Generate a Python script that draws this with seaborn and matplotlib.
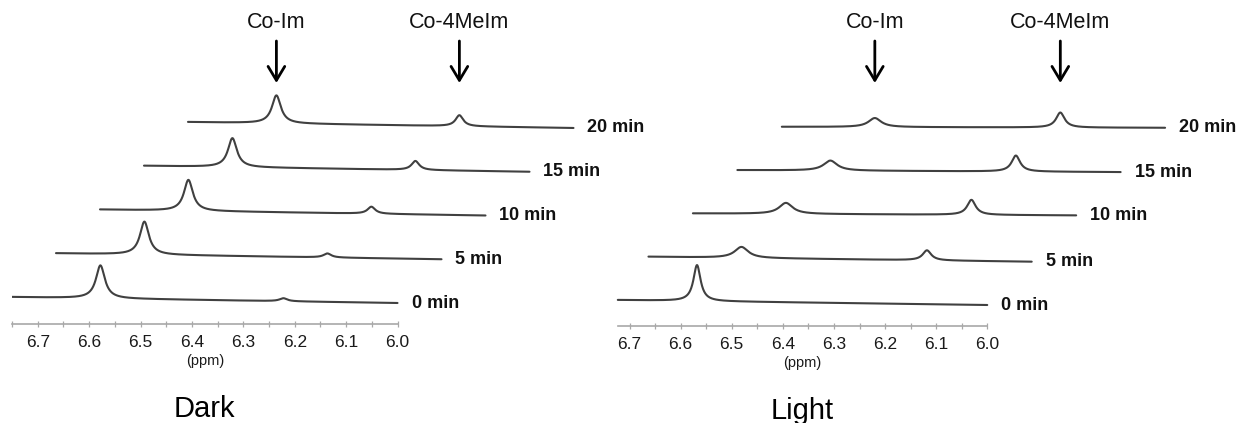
import numpy as np
import pandas as pd
import matplotlib
matplotlib.use("Agg")
import matplotlib.pyplot as plt
import seaborn as sns

# ---- data ---------------------------------------------------------------
times = ["0 min", "5 min", "10 min", "15 min", "20 min"]

# chemical shifts of the two resonances (ppm)
dark_im_ppm = 6.578
dark_meim_ppm = 6.222
light_im_ppm = 6.568
light_meim_ppm = 6.205

# peak heights (a.u.)
dark_im_height = [33, 33, 31, 29, 28]
dark_meim_height = [3, 4, 7, 9, 11]
light_im_height = [36, 11, 11, 10, 9]
light_meim_height = [0, 10, 15, 16, 15]

# line widths, FWHM (ppm)
dark_im_fwhm = [0.021, 0.021, 0.021, 0.021, 0.021]
dark_meim_fwhm = [0.018, 0.018, 0.018, 0.018, 0.018]
light_im_fwhm = [0.017, 0.032, 0.032, 0.032, 0.030]
light_meim_fwhm = [0.02, 0.02, 0.02, 0.02, 0.02]

# recorded spectral window of each trace (ppm, high -> low)
dark_window_start = [6.75, 6.75, 6.75, 6.75, 6.75]
light_window_start = [6.723, 6.75, 6.75, 6.75, 6.75]
window_end = 6.0

# baseline drift from left to right end of each trace (a.u.)
dark_drift = [6, 6, 6, 6, 6]
light_drift = [5, 5, 2, 2, 1]

tick_values = [6.7, 6.6, 6.5, 6.4, 6.3, 6.2, 6.1, 6.0]
tick_labels = ["6.7", "6.6", "6.5", "6.4", "6.3", "6.2", "6.1", "6.0"]

# ---- style --------------------------------------------------------------
sns.set_theme(style="white")
plt.rcParams["font.family"] = ["Liberation Sans", "DejaVu Sans"]

W, H = 1236, 423
fig = plt.figure(figsize=(W / 100, H / 100), dpi=100)
LINE = "#404040"
AXIS = "#a8a8a8"


def lorentz(x, x0, h, fwhm):
    g = fwhm / 2.0
    return h * g ** 2 / ((x - x0) ** 2 + g ** 2)


def build_frame(starts, im_ppm, im_h, im_w, me_ppm, me_h, me_w, drift,
                shift, base0, step):
    rows = []
    for i, t in enumerate(times):
        x = np.linspace(starts[i], window_end, 1500)
        frac = (starts[i] - x) / (starts[i] - window_end)
        y = (lorentz(x, im_ppm, im_h[i], im_w[i])
             + lorentz(x, me_ppm, me_h[i], me_w[i])
             - drift[i] * frac)
        rows.append(pd.DataFrame({
            "ppm": x - i * shift,          # stacked display offset
            "intensity": y + base0 + i * step,
            "time": t,
        }))
    return pd.concat(rows, ignore_index=True)


def panel(left_px, right_px, bottom_px, ppm_left, px_per_ppm, df,
          drift, shift, base0, step, im_ppm, me_ppm, title, axis_start):
    ax = fig.add_axes([left_px / W, (H - bottom_px) / H,
                       (right_px - left_px) / W, bottom_px / H])
    ax.set_facecolor("none")
    sns.lineplot(data=df, x="ppm", y="intensity", units="time",
                 estimator=None, sort=False, color=LINE, lw=1.5, ax=ax)
    ax.set_xlim(ppm_left, ppm_left - (right_px - left_px) / px_per_ppm)
    ax.set_ylim(0, bottom_px)

    for s in ["left", "right", "top"]:
        ax.spines[s].set_visible(False)
    ax.spines["bottom"].set_color(AXIS)
    ax.spines["bottom"].set_linewidth(1.2)
    ax.spines["bottom"].set_bounds(window_end, axis_start)
    ax.set_yticks([])
    ax.set_xticks(tick_values)
    ax.set_xticklabels(tick_labels)
    minors = [v for v in np.arange(6.05, axis_start + 1e-6, 0.1)]
    ax.set_xticks(minors, minor=True)
    ax.tick_params(axis="x", which="both", direction="inout", length=4,
                   width=0.9, color=AXIS, labelsize=12.5, labelcolor="#1a1a1a",
                   pad=6, bottom=True)
    ax.set_xlabel("")
    ax.set_ylabel("")

    xt = ax.get_xaxis_transform()
    mid = (axis_start + window_end) / 2
    ax.annotate("(ppm)", xy=(mid, 0), xycoords=xt, xytext=(0, -26.5),
                textcoords="offset points", ha="center", va="center",
                fontsize=10.5, color="#1a1a1a")
    ax.annotate(title, xy=(mid, 0), xycoords=xt, xytext=(0, -61),
                textcoords="offset points", ha="center", va="center",
                fontsize=21, color="black")

    # time labels to the right of each trace
    gap = 14 / px_per_ppm
    for i, t in enumerate(times):
        ax.text(window_end - i * shift - gap,
                base0 + i * step - drift[i], t, ha="left", va="center",
                fontsize=13, fontweight="bold", color="#111111")

    # arrows marking the two resonances on the top trace
    n = len(times) - 1
    for name, p in [("Co-Im", im_ppm), ("Co-4MeIm", me_ppm)]:
        xp = p - n * shift
        ax.annotate("", xy=(xp, bottom_px - 83), xytext=(xp, bottom_px - 41),
                    arrowprops=dict(arrowstyle="->,head_length=0.5,head_width=0.3",
                                    lw=2, color="black", mutation_scale=20,
                                    shrinkA=0, shrinkB=0))
        ax.text(xp, bottom_px - 22, name, ha="center", va="center",
                fontsize=15.5, color="#111111")
    return ax


dark_shift, light_shift = 0.0856, 0.087
dark_df = build_frame(dark_window_start, dark_im_ppm, dark_im_height,
                      dark_im_fwhm, dark_meim_ppm, dark_meim_height,
                      dark_meim_fwhm, dark_drift, dark_shift, 27, 43.75)
light_df = build_frame(light_window_start, light_im_ppm, light_im_height,
                       light_im_fwhm, light_meim_ppm, light_meim_height,
                       light_meim_fwhm, light_drift, light_shift, 26, 43.3)

panel(12, 620, 324, 6.75, 514, dark_df, dark_drift,
      dark_shift, 27, 43.75, dark_im_ppm, dark_meim_ppm, "Dark", 6.75)
panel(604, 1236, 326, 6.75, 511, light_df, light_drift,
      light_shift, 26, 43.3, light_im_ppm, light_meim_ppm, "Light", 6.723)

fig.savefig("out.png", dpi=100, facecolor="white")
